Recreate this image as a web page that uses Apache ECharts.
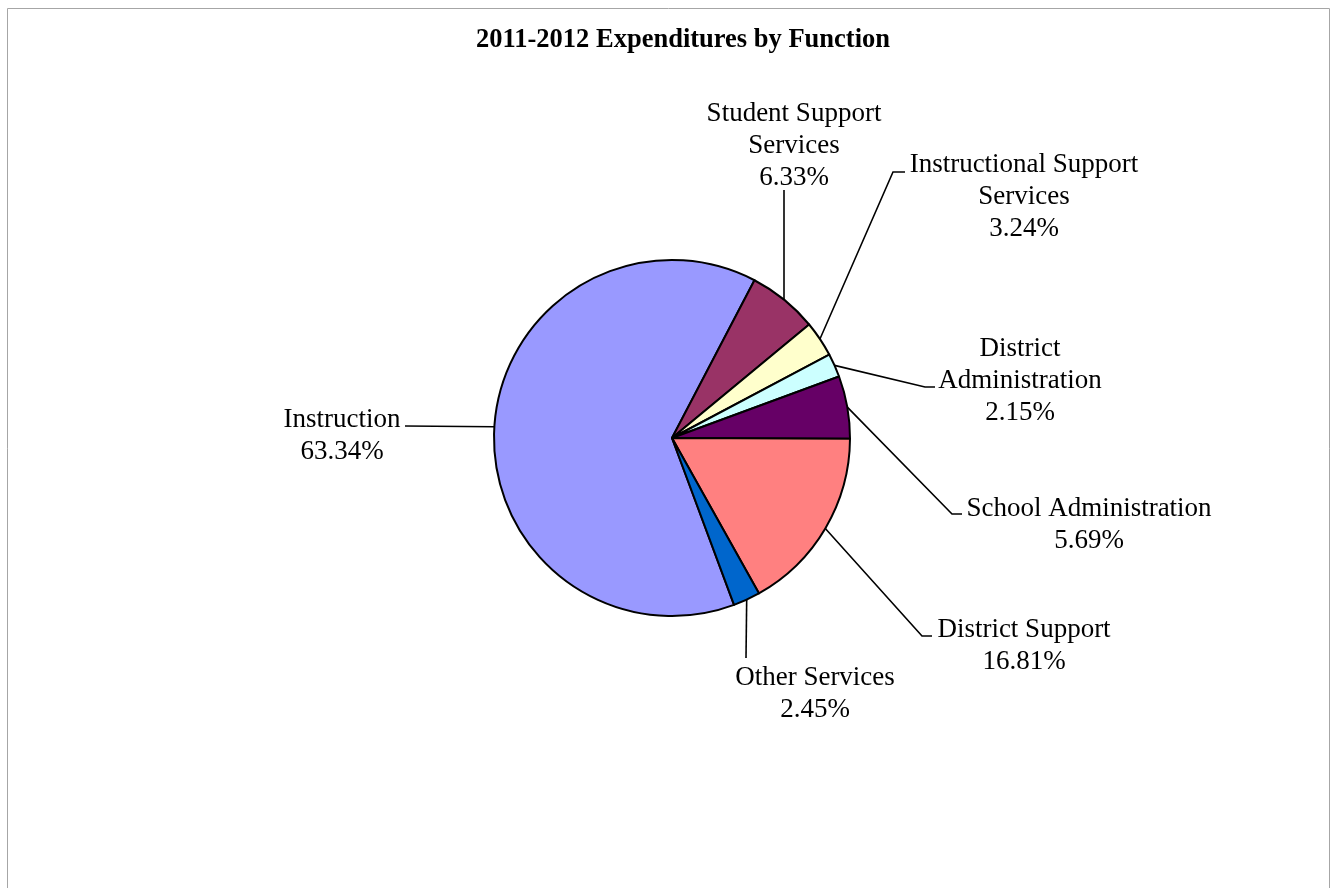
<!DOCTYPE html>
<html>
<head>
<meta charset="utf-8">
<title>2011-2012 Expenditures by Function</title>
<script src="https://cdn.jsdelivr.net/npm/echarts@6/dist/echarts.min.js"></script>
<style>
  html, body { margin: 0; padding: 0; background: #ffffff; }
  #chart { width: 1336px; height: 888px; }
</style>
</head>
<body>
<div id="chart"></div>
<script>
// Share of 2011-2012 expenditures by function (percent)
const categories = [
  'Instruction',
  'Student Support\nServices',
  'Instructional Support\nServices',
  'District\nAdministration',
  'School Administration',
  'District Support',
  'Other Services'
];
const shares = [63.34, 6.33, 3.24, 2.15, 5.69, 16.81, 2.45];
const sliceColors = ['#9999FF', '#993366', '#FFFFCC', '#CCFFFF', '#660066', '#FF8080', '#0066CC'];

// Where each callout sits: label centre, end of the leader line, and the short tail length
const callouts = [
  { label: [342, 436], lineEnd: [405, 426], tail: 0 },
  { label: [794, 146], lineEnd: [784, 190], tail: 0 },
  { label: [1024, 197], lineEnd: [893, 172], tail: 12 },
  { label: [1020, 381], lineEnd: [925, 387], tail: 10 },
  { label: [1089, 525], lineEnd: [952, 514], tail: 10 },
  { label: [1024, 646], lineEnd: [922, 636], tail: 10 },
  { label: [815, 694], lineEnd: [746, 658], tail: 0 }
];

const chart = echarts.init(document.getElementById('chart'), null, { renderer: 'canvas' });

const serif = '"Liberation Serif", "Times New Roman", "DejaVu Serif", serif';

chart.setOption({
  backgroundColor: '#ffffff',
  animation: false,
  title: {
    text: '2011-2012 Expenditures by Function',
    left: 471,
    top: 22,
    textStyle: { fontFamily: serif, fontSize: 26.5, fontWeight: 'bold', color: '#000000' }
  },
  graphic: [
    {
      type: 'rect',
      silent: true,
      shape: { x: 7.5, y: 8.5, width: 1322, height: 900 },
      style: { fill: 'none', stroke: '#a6a6a6', lineWidth: 1 }
    }
  ],
  series: [
    {
      type: 'pie',
      center: [672, 438],
      radius: 178,
      startAngle: -69.6,
      clockwise: true,
      avoidLabelOverlap: false,
      data: categories.map((name, i) => ({
        name: name,
        value: shares[i],
        itemStyle: { color: sliceColors[i] }
      })),
      itemStyle: { borderColor: '#000000', borderWidth: 2 },
      label: {
        show: true,
        position: 'outside',
        formatter: (p) => p.name + '\n' + p.value.toFixed(2) + '%',
        fontFamily: serif,
        fontSize: 27,
        lineHeight: 32,
        color: '#000000',
        align: 'center'
      },
      labelLine: {
        show: true,
        length: 20,
        length2: 10,
        lineStyle: { color: '#000000', width: 1.6 }
      },
      labelLayout: (params) => {
        const c = callouts[params.dataIndex];
        const start = params.labelLinePoints ? params.labelLinePoints[0] : c.lineEnd;
        const pts = [start, c.lineEnd];
        if (c.tail) {
          pts.push([c.lineEnd[0] + c.tail, c.lineEnd[1]]);
        } else {
          pts.push(c.lineEnd);
        }
        return {
          x: c.label[0],
          y: c.label[1],
          align: 'center',
          verticalAlign: 'middle',
          labelLinePoints: pts
        };
      },
      emphasis: { disabled: true }
    }
  ]
});
</script>
</body>
</html>
